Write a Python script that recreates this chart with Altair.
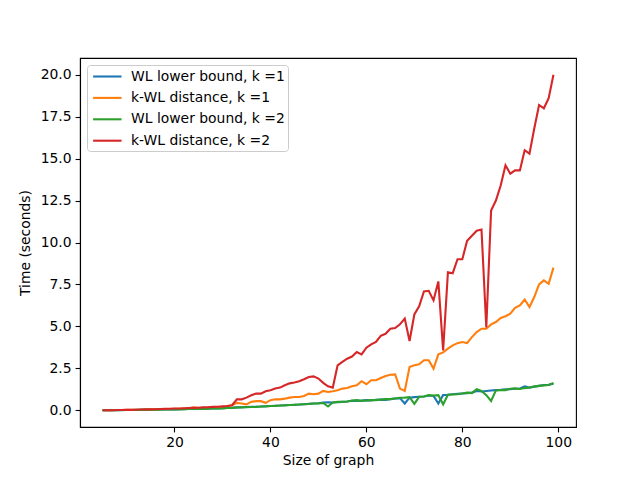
import altair as alt
import pandas as pd

sizes = list(range(5, 100))

wl_k1 = [0.0, 0.0, 0.0, 0.0, 0.01, 0.01, 0.01, 0.02, 0.02, 0.02,
         0.03, 0.03, 0.04, 0.04, 0.05, 0.05, 0.06, 0.06, 0.07, 0.07,
         0.08, 0.09, 0.09, 0.1, 0.11, 0.12, 0.14, 0.15, 0.17, 0.18,
         0.19, 0.2, 0.21, 0.22, 0.24, 0.25, 0.27, 0.28, 0.3, 0.31,
         0.33, 0.34, 0.36, 0.38, 0.4, 0.42, 0.46, 0.47, 0.46, 0.48,
         0.5, 0.52, 0.56, 0.55, 0.57, 0.6, 0.58, 0.62, 0.63, 0.62,
         0.66, 0.7, 0.72, 0.4, 0.75, 0.78, 0.8, 0.82, 0.88, 0.85,
         0.4, 0.9, 0.92, 0.95, 0.98, 1.0, 1.02, 1.05, 1.15, 1.12,
         1.15, 1.18, 1.2, 1.22, 1.25, 1.25, 1.28, 1.3, 1.42, 1.35,
         1.4, 1.45, 1.5, 1.52, 1.58]

kwl_k1 = [0.0, 0.0, 0.0, 0.01, 0.01, 0.02, 0.02, 0.03, 0.03, 0.04,
          0.05, 0.05, 0.06, 0.07, 0.07, 0.08, 0.09, 0.1, 0.11, 0.17,
          0.13, 0.15, 0.16, 0.18, 0.19, 0.21, 0.24, 0.3, 0.44, 0.4,
          0.35, 0.5, 0.54, 0.54, 0.44, 0.6, 0.65, 0.65, 0.69, 0.75,
          0.79, 0.79, 0.85, 0.99, 0.95, 0.99, 1.15, 1.09, 1.13, 1.19,
          1.29, 1.33, 1.43, 1.49, 1.73, 1.55, 1.79, 1.79, 1.92, 2.04,
          2.12, 2.14, 1.29, 1.15, 2.58, 2.68, 2.74, 2.98, 2.98, 2.48,
          3.33, 3.45, 3.67, 3.87, 4.0, 4.07, 4.0, 4.36, 4.66, 4.86,
          4.86, 5.12, 5.26, 5.5, 5.6, 5.75, 6.1, 6.25, 6.6, 6.15,
          6.75, 7.5, 7.74, 7.54, 8.5]

wl_k2 = [0.0, 0.0, 0.0, 0.0, 0.0, 0.01, 0.01, 0.01, 0.02, 0.02,
         0.03, 0.03, 0.03, 0.04, 0.04, 0.05, 0.05, 0.06, 0.07, 0.07,
         0.08, 0.08, 0.09, 0.1, 0.1, 0.11, 0.13, 0.14, 0.16, 0.17,
         0.18, 0.19, 0.2, 0.22, 0.23, 0.25, 0.26, 0.28, 0.29, 0.31,
         0.32, 0.34, 0.36, 0.37, 0.4, 0.41, 0.43, 0.22, 0.46, 0.5,
         0.5, 0.52, 0.58, 0.6, 0.56, 0.58, 0.6, 0.6, 0.63, 0.66,
         0.66, 0.7, 0.74, 0.75, 0.78, 0.38, 0.8, 0.82, 0.9, 0.88,
         0.9, 0.35, 0.92, 0.94, 0.95, 1.0, 1.05, 1.02, 1.25, 1.15,
         0.9, 0.55, 1.18, 1.2, 1.2, 1.28, 1.3, 1.27, 1.32, 1.35,
         1.42, 1.45, 1.48, 1.5, 1.62]

kwl_k2 = [0.0, 0.0, 0.0, 0.01, 0.01, 0.02, 0.02, 0.03, 0.04, 0.05,
          0.05, 0.06, 0.07, 0.08, 0.09, 0.1, 0.1, 0.12, 0.13, 0.14,
          0.15, 0.17, 0.18, 0.2, 0.21, 0.23, 0.25, 0.3, 0.65, 0.65,
          0.75, 0.89, 0.99, 0.99, 1.13, 1.19, 1.29, 1.35, 1.49, 1.6,
          1.65, 1.73, 1.85, 1.98, 2.02, 1.89, 1.63, 1.43, 1.35, 2.68,
          2.88, 3.07, 3.2, 3.47, 3.33, 3.73, 3.93, 4.07, 4.44, 4.56,
          4.86, 4.9, 5.12, 5.46, 4.13, 5.71, 6.19, 7.08, 7.12, 6.55,
          7.68, 3.57, 8.23, 8.17, 9.0, 9.0, 10.1, 10.4, 10.7, 10.77,
          4.94, 11.9, 12.5, 13.4, 14.6, 14.1, 14.3, 14.3, 15.5, 15.3,
          16.8, 18.2, 18.0, 18.6, 20.0]

series_names = ["WL lower bound, k =1", "k-WL distance, k =1",
                "WL lower bound, k =2", "k-WL distance, k =2"]
series_colors = ["#1f77b4", "#ff7f0e", "#2ca02c", "#d62728"]
series_values = [wl_k1, kwl_k1, wl_k2, kwl_k2]

rows = []
for i, (name, vals) in enumerate(zip(series_names, series_values)):
    for s, v in zip(sizes, vals):
        rows.append({"size": s, "time": v, "series": name, "order": i})
df = pd.DataFrame(rows)

FONT = "DejaVu Sans"

chart = alt.Chart(df).mark_line(strokeWidth=2.1, clip=True).encode(
    x=alt.X("size:Q",
            scale=alt.Scale(domain=[0.3, 103.7], nice=False, zero=False),
            axis=alt.Axis(title="Size of graph", values=[20, 40, 60, 80, 100],
                          format="d", grid=False)),
    y=alt.Y("time:Q",
            scale=alt.Scale(domain=[-1.0, 21.0], nice=False, zero=False),
            axis=alt.Axis(title="Time (seconds)",
                          values=[0, 2.5, 5, 7.5, 10, 12.5, 15, 17.5, 20],
                          format=".1f", grid=False)),
    color=alt.Color("series:N",
                    scale=alt.Scale(domain=series_names, range=series_colors),
                    legend=alt.Legend(title=None, orient="none",
                                      legendX=7, legendY=7,
                                      symbolType="M-0.77,0H3.29",
                                      symbolSize=196,
                                      symbolStrokeWidth=2.1,
                                      labelFont=FONT, labelFontSize=13.9,
                                      labelColor="black",
                                      labelOffset=24,
                                      rowPadding=5.4, padding=3,
                                      fillColor="rgba(255,255,255,0.8)",
                                      strokeColor="#cccccc",
                                      cornerRadius=3)),
    order=alt.Order("order:Q"),
    detail="series:N",
).properties(
    width=496, height=369,
    autosize=alt.AutoSizeParams(type="none"),
    padding={"left": 72, "top": 50, "right": 56, "bottom": 45},
).configure_view(
    stroke="black", strokeWidth=1.1
).configure_axis(
    domainColor="black", domainWidth=1.1,
    tickColor="black", tickWidth=1.1, tickSize=4.9,
    labelFont=FONT, labelFontSize=13.9, labelColor="black", labelPadding=4,
    titleFont=FONT, titleFontSize=13.9, titleFontWeight="normal",
    titleColor="black",
).configure_axisX(titlePadding=4).configure_axisY(titlePadding=8)

chart.save("out.html", embed_options={"renderer": "svg", "actions": False})
